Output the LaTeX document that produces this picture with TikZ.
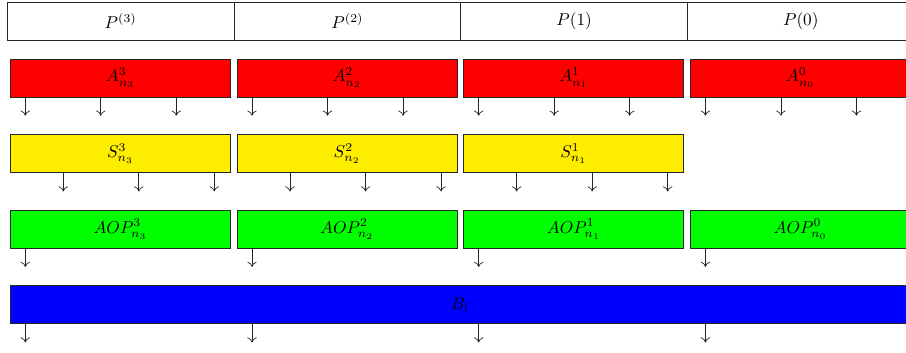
\documentclass[tikz,border=0pt]{standalone}
\usetikzlibrary{arrows.meta}
\def\pxu{0.581pt}
\definecolor{boxyellow}{RGB}{255,237,0}
\begin{document}
\begin{tikzpicture}[x=0.581pt,y=-0.581pt,
  box/.style={draw=black!85,line width=0.4pt,rectangle,inner sep=0pt,anchor=north west,
    minimum width=220*\pxu,minimum height=38*\pxu},
  pbox/.style={box,fill=white,minimum width=226.7*\pxu},
  redbox/.style={box,fill=red},
  yelbox/.style={box,fill=boxyellow},
  grnbox/.style={box,fill=green},
  blubox/.style={box,fill=blue,minimum width=900*\pxu},
  arr/.style={-{To[length=3pt,width=5.5pt]},draw=black!85,line width=0.4pt}]
\path[use as bounding box] (0,0) rectangle (906,352);
\clip (0,0) rectangle (906,352);
% top row
\node[pbox] (p3) at (7,2) {$P^{(3)}$};
\node[pbox] (p2) at (233.7,2) {$P^{(2)}$};
\node[pbox] (p1) at (460.4,2) {$P(1)$};
\node[pbox] (p0) at (687.1,2) {$P(0)$};
% red row
\foreach \i/\k in {0/3,1/2,2/1,3/0}{
  \node[redbox] (a\k) at (10+226.7*\i,58.5) {$A^{\k}_{n_{\k}}$};
  \foreach \o in {15.3,90.8,166.3}
    \draw[arr] ([xshift=\o*\pxu]a\k.south west) -- ++(0,18.5);
}
% yellow row
\foreach \i/\k in {0/3,1/2,2/1}{
  \node[yelbox] (s\k) at (10+226.7*\i,134.3) {$S^{\k}_{n_{\k}}$};
  \foreach \o in {53.3,128.8,204.3}
    \draw[arr] ([xshift=\o*\pxu]s\k.south west) -- ++(0,18.5);
}
% green row
\foreach \i/\k in {0/3,1/2,2/1,3/0}{
  \node[grnbox] (g\k) at (10+226.7*\i,209.7) {$AOP^{\k}_{n_{\k}}$};
  \draw[arr] ([xshift=15.3*\pxu]g\k.south west) -- ++(0,18.5);
}
% blue row
\node[blubox] (b) at (10,285.3) {$B_l$};
\foreach \i in {0,1,2,3}
  \draw[arr] ([xshift={(15.3+226.7*\i)*\pxu}]b.south west) -- ++(0,18.5);
\end{tikzpicture}
\end{document}
